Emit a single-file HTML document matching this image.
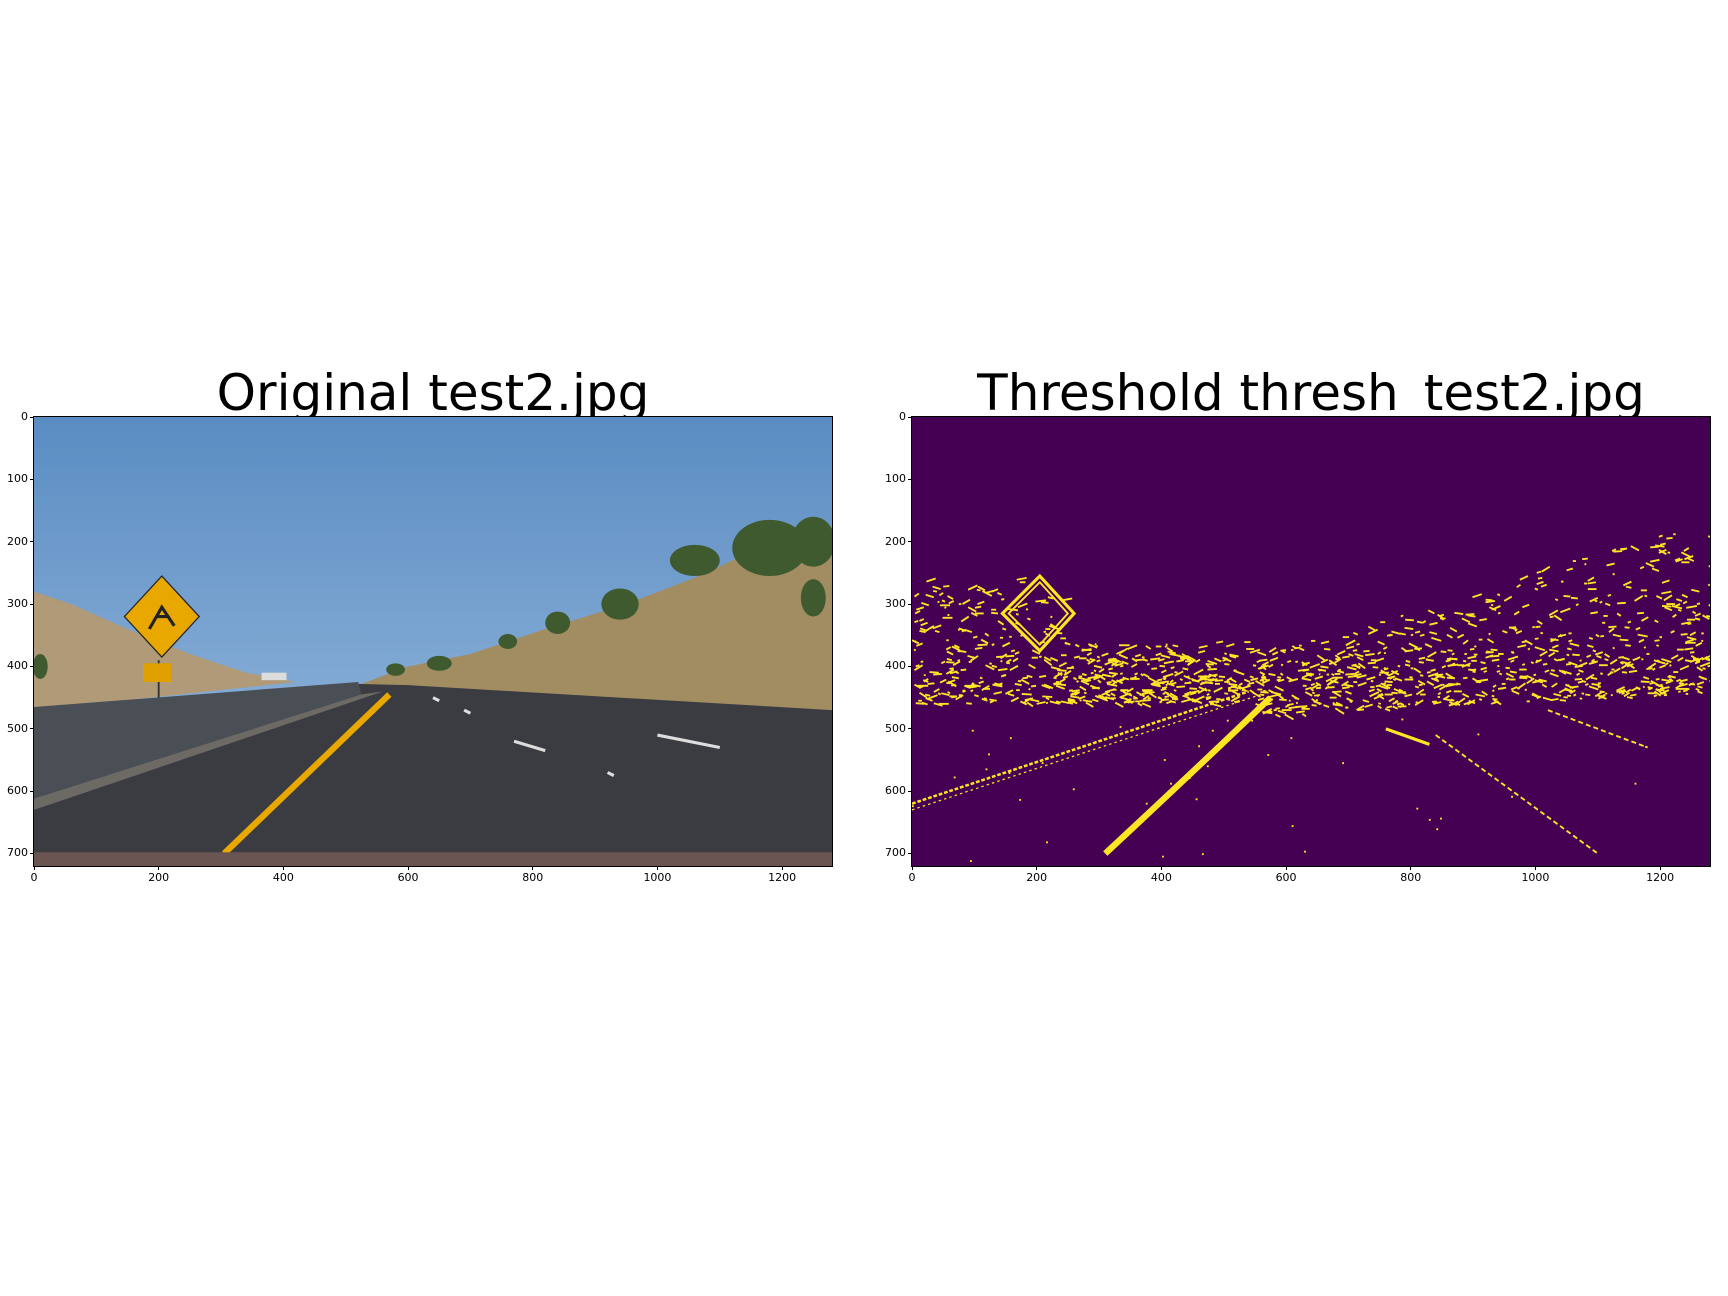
<!DOCTYPE html>
<html><head><meta charset="utf-8"><style>
body{margin:0;background:#fff;width:1728px;height:1296px;position:relative;overflow:hidden;font-family:"DejaVu Sans","Liberation Sans",sans-serif}
.t{position:absolute;font-size:50px;color:#000;white-space:nowrap;transform:translateX(-50%)}
.ax{position:absolute;top:417px;width:798px;height:449px;outline:1px solid #000}
.tk{position:absolute;font-size:11px;color:#000}
svg{display:block}
</style></head><body>
<div class="t" style="left:433px;top:364px">Original test2.jpg</div>
<div class="t" style="left:1311px;top:364px">Threshold thresh_test2.jpg</div>

<div class="ax" style="left:34px">
<svg width="798" height="449" viewBox="0 0 1280 720" preserveAspectRatio="none">
<defs><linearGradient id="sky" x1="0" y1="0" x2="0" y2="1"><stop offset="0" stop-color="#5a8cc2"/><stop offset="1" stop-color="#9cbde0"/></linearGradient></defs>
<rect width="1280" height="720" fill="url(#sky)"/>
<polygon points="0,280 60,300 150,340 250,380 340,410 420,425 0,470" fill="#b09a78"/>
<polygon points="520,430 600,400 700,380 820,340 950,300 1080,250 1180,200 1280,180 1280,470 520,440" fill="#a28c62"/>
<g fill="#3f5a2e">
<ellipse cx="1180" cy="210" rx="60" ry="45"/><ellipse cx="1250" cy="200" rx="35" ry="40"/><ellipse cx="1060" cy="230" rx="40" ry="25"/>
<ellipse cx="1250" cy="290" rx="20" ry="30"/><ellipse cx="940" cy="300" rx="30" ry="25"/><ellipse cx="840" cy="330" rx="20" ry="18"/>
<ellipse cx="760" cy="360" rx="15" ry="12"/><ellipse cx="650" cy="395" rx="20" ry="12"/><ellipse cx="580" cy="405" rx="15" ry="10"/>
<ellipse cx="10" cy="400" rx="12" ry="20"/></g>
<polygon points="0,470 520,428 600,430 1280,470 1280,720 0,720" fill="#3b3c42"/>
<polygon points="0,465 520,425 525,445 0,612" fill="#4a4e55"/>
<polygon points="0,612 525,445 560,440 0,630" fill="#6d6a66"/>
<path d="M305,700 Q450,560 570,445" stroke="#e9a800" stroke-width="10" fill="none"/>
<g stroke="#ddd" stroke-width="5"><line x1="770" y1="520" x2="820" y2="535"/><line x1="1000" y1="510" x2="1100" y2="530"/><line x1="920" y1="570" x2="930" y2="575"/><line x1="690" y1="470" x2="700" y2="475"/><line x1="640" y1="450" x2="650" y2="455"/></g>
<rect x="0" y="698" width="1280" height="22" fill="#6b5552"/>
<line x1="200" y1="390" x2="200" y2="450" stroke="#333" stroke-width="3"/>
<polygon points="205,255 265,320 205,385 145,320" fill="#e8a800" stroke="#222" stroke-width="2"/>
<path d="M185,340 L205,305 L225,335 M195,320 L215,320" stroke="#222" stroke-width="5" fill="none"/>
<rect x="175" y="395" width="45" height="30" fill="#e0a000"/>
<rect x="365" y="410" width="40" height="12" fill="#ddd"/>
</svg></div>

<div class="ax" style="left:912px">
<svg id="th" width="798" height="449" viewBox="0 0 1280 720" preserveAspectRatio="none">
<rect width="1280" height="720" fill="#440154"/>
<g stroke="#fde725" fill="none">
<polygon points="205,255 260,315 205,375 145,315" stroke-width="5"/>
<polygon points="205,265 250,315 205,365 155,315" stroke-width="3"/>
<path d="M310,700 Q450,570 575,450" stroke-width="10"/>
<path d="M0,620 Q300,520 540,440" stroke-width="4" stroke-dasharray="6 3"/>
<path d="M0,630 Q300,530 560,445" stroke-width="2" stroke-dasharray="4 5"/>
<line x1="760" y1="500" x2="830" y2="525" stroke-width="5"/>
<path d="M840,510 L1100,700" stroke-width="3" stroke-dasharray="8 5"/>
<path d="M1020,470 L1180,530" stroke-width="3" stroke-dasharray="8 5"/>
</g>
<g id="noise" stroke="#fde725" stroke-width="3" fill="none"></g>
</svg></div>

<div id="ticks"></div>
<script>
(function(){
var s=12345;function r(){s=(s*1103515245+12345)%2147483648;return s/2147483648;}
var g=document.getElementById('noise'),h='';
for(var i=0;i<1300;i++){var x=r()*1280,top,bot;
if(x<250){top=260;bot=460}else if(x<560){top=360;bot=460}else{top=380-(x-560)*0.3;bot=480-(x-560)*0.05}
if(r()<0.3){top=Math.max(top,380);}
var y=top+Math.pow(r(),0.8)*(bot-top);var l=3+r()*14,a=-0.6+r()*1.2;
h+='<line x1="'+x.toFixed(0)+'" y1="'+y.toFixed(0)+'" x2="'+(x+l*Math.cos(a)).toFixed(0)+'" y2="'+(y+l*Math.sin(a)).toFixed(0)+'"/>';}
for(i=0;i<40;i++){var x=r()*1280,y=480+r()*240;h+='<line x1="'+x.toFixed(0)+'" y1="'+y.toFixed(0)+'" x2="'+(x+3).toFixed(0)+'" y2="'+y.toFixed(0)+'"/>';}
g.innerHTML=h;
var t='',k=798/1280;
[34,912].forEach(function(L){
for(var v=0;v<=1200;v+=200){var px=L+v*k;t+='<div style="position:absolute;left:'+(px-0.5)+'px;top:866px;width:1px;height:4px;background:#000"></div><div class="tk" style="left:'+(px-20)+'px;top:871px;width:40px;text-align:center">'+v+'</div>';}
for(v=0;v<=700;v+=100){var py=417+v*k;t+='<div style="position:absolute;left:'+(L-4)+'px;top:'+(py-0.5)+'px;width:4px;height:1px;background:#000"></div><div class="tk" style="left:'+(L-46)+'px;top:'+(py-7)+'px;width:40px;text-align:right">'+v+'</div>';}
});
document.getElementById('ticks').innerHTML=t;
})();
</script>
</body></html>
